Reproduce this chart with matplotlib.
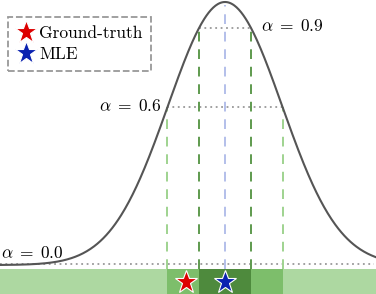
import numpy as np
import matplotlib.pyplot as plt
from matplotlib.patches import Rectangle

plt.rcParams['mathtext.fontset'] = 'cm'
plt.rcParams['font.family'] = ['cmr10', 'DejaVu Serif']

# likelihood (gaussian, in units of sigma)
mle = 0.0
sigma = 1.0
truth = -0.68
levels = [0.0, 0.6, 0.9]
level_labels = [r'$\alpha\;=\;0.0$', r'$\alpha\;=\;0.6$', r'$\alpha\;=\;0.9$']
xmin, xmax = -3.95, 2.65


def lik(t):
    return np.exp(-(t - mle) ** 2 / (2 * sigma ** 2))


def halfwidth(a):
    return sigma * np.sqrt(2 * np.log(1 / a))


fig = plt.figure(figsize=(3.76, 2.94), dpi=100)
ax = fig.add_axes([0, 0, 1, 1])
ax.set_xlim(xmin, xmax)
ax.set_ylim(-0.110, 1.0076)
ax.axis('off')

bar_top, bar_bot = -0.0152, -0.12
t = np.linspace(xmin, xmax, 500)
ax.plot(t, lik(t), color='#555555', lw=1.5, zorder=3)

# bottom band
ax.add_patch(Rectangle((xmin, bar_bot), xmax - xmin, bar_top - bar_bot,
                       color='#add8a1', lw=0, zorder=1))
h6 = halfwidth(0.6)
h9 = halfwidth(0.9)
ax.add_patch(Rectangle((mle - h6, bar_bot), 2 * h6, bar_top - bar_bot,
                       color='#7dbe6b', lw=0, zorder=1))
ax.add_patch(Rectangle((mle - h9, bar_bot), 2 * h9, bar_top - bar_bot,
                       color='#4e8a3d', lw=0, zorder=1))

# level lines
ax.plot([xmin, xmax - 0.03], [0.005, 0.005], ls=(0, (1, 2)), color='#999999', lw=1.3, zorder=2)
for a, col in [(0.6, '#9fd38f'), (0.9, '#5e9a4e')]:
    h = halfwidth(a)
    ax.plot([mle - h, mle + h], [a, a], ls=(0, (1, 2)), color='#999999', lw=1.3, zorder=2)
    for s in (-1, 1):
        ax.plot([mle + s * h, mle + s * h], [bar_top, a], ls=(0, (5, 4)),
                color=col, lw=1.4, zorder=2)
ax.plot([mle, mle], [bar_top, 0.99], ls=(0, (5, 4)), color='#b3bfea', lw=1.4, zorder=2)

ax.text(xmin + 0.02, 0.015, level_labels[0], fontsize=12.5, ha='left', va='bottom')
ax.text(mle - h6 - 0.1, 0.605, level_labels[1], fontsize=12.5, ha='right', va='center')
ax.text(mle + h9 + 0.18, 0.91, level_labels[2], fontsize=12.5, ha='left', va='center')

ystar = -0.066
ax.plot(truth, ystar, marker='*', ms=17, color='#dd0000', mec='white', mew=0.8,
        ls='none', zorder=4, label='Ground-truth')
ax.plot(mle, ystar, marker='*', ms=17, color='#0a22b0', mec='white', mew=0.8,
        ls='none', zorder=4, label='MLE')

leg = ax.legend(loc='upper left', bbox_to_anchor=(0.021, 0.942), fontsize=12.5,
                fancybox=False, framealpha=1, edgecolor='#999999',
                handletextpad=0.2, handlelength=1.1, borderpad=0.5,
                labelspacing=0.35, borderaxespad=0)
leg.get_frame().set_linestyle('--')
leg.get_frame().set_linewidth(1.3)

fig.savefig('out.png', dpi=100)
